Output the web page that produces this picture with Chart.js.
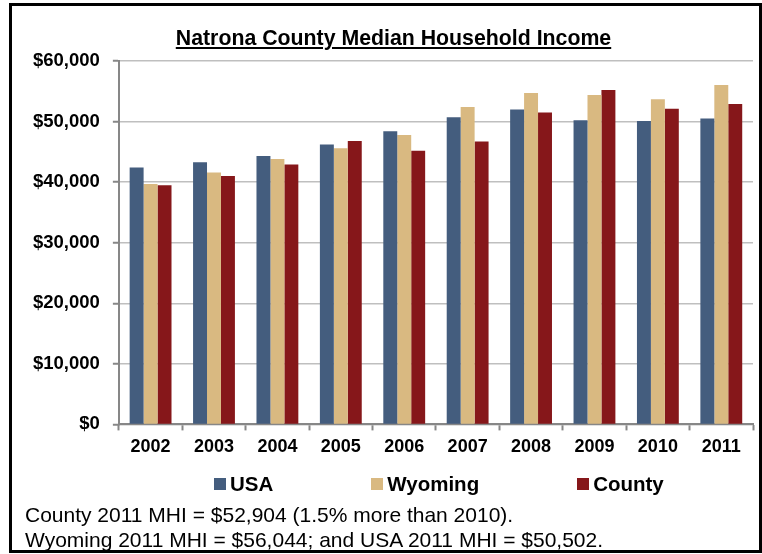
<!DOCTYPE html>
<html>
<head>
<meta charset="utf-8">
<script src="https://cdn.jsdelivr.net/npm/chart.js@4.4.1/dist/chart.umd.min.js"></script>
<style>
  body { margin: 0; background: #fff; font-family: "Liberation Sans", Arial, sans-serif; }
  #wrap { position: relative; width: 762px; height: 554px; overflow: hidden; }
  #frame { position: absolute; left: 9px; top: 3px; width: 747px; height: 544px; border: 3px solid #000; }
  #chart { position: absolute; left: 0; top: 0; }
  #title { position: absolute; left: 0; width: 787px; top: 26px; text-align: center;
    font-weight: bold; font-size: 21.3px; text-decoration: underline; color: #000; }
  #legend { position: absolute; left: 214px; top: 472px; display: flex; gap: 98px;
    font-weight: bold; font-size: 20.5px; color: #000; }
  #legend .item { display: flex; align-items: center; }
  #legend .box { width: 12px; height: 12px; margin-right: 4px; }
  #note { position: absolute; left: 25px; top: 502px; font-size: 21px; line-height: 25px; color: #000; }
</style>
</head>
<body>
<div id="wrap">
  <div id="frame"></div>
  <canvas id="chart" width="762" height="554"></canvas>
  <div id="title">Natrona County Median Household Income</div>
  <div id="legend"></div>
  <div id="note">County 2011 MHI = $52,904 (1.5% more than 2010).<br>Wyoming 2011 MHI = $56,044; and USA 2011 MHI = $50,502.</div>
</div>
<script>
// values (2011 ones are from the footnote)
const years = ["2002", "2003", "2004", "2005", "2006", "2007", "2008", "2009", "2010", "2011"];
const usa = [42400, 43300, 44300, 46200, 48400, 50700, 52000, 50200, 50100, 50502];
const wyoming = [39700, 41600, 43800, 45600, 47800, 52400, 54700, 54400, 53700, 56044];
const county = [39500, 41000, 42900, 46800, 45200, 46700, 51500, 55200, 52100, 52904];

const seriesNames = ["USA", "Wyoming", "County"];
const seriesColors = ["#445d7e", "#d9b981", "#86171a"];

const axisGray = "#878787";
const font = "'Liberation Sans', Arial, sans-serif";

const chartData = {
  labels: years,
  datasets: [usa, wyoming, county].map((vals, i) => ({
    label: seriesNames[i],
    data: vals,
    backgroundColor: seriesColors[i],
    borderWidth: 0,
    categoryPercentage: 0.66,
    barPercentage: 1.0,
  })),
};

new Chart(document.getElementById("chart"), {
  type: "bar",
  data: chartData,
  options: {
    responsive: false,
    animation: false,
    devicePixelRatio: 1,
    layout: { padding: { left: 20, top: 61, right: 9, bottom: 90 } },
    plugins: { legend: { display: false }, title: { display: false }, tooltip: { enabled: false } },
    scales: {
      x: {
        grid: { display: true, drawOnChartArea: false, drawTicks: true, tickLength: 6, tickColor: axisGray, tickWidth: 2 },
        border: { color: axisGray, width: 2 },
        ticks: { color: "#000", padding: 6, font: { family: font, size: 18, weight: "bold" } },
      },
      y: {
        min: 0,
        max: 60000,
        grid: { color: "#bfbfbf", lineWidth: 1.5, tickLength: 6, tickColor: axisGray, tickWidth: 2 },
        border: { color: axisGray, width: 2 },
        ticks: {
          stepSize: 10000,
          color: "#000",
          padding: 13,
          font: { family: font, size: 18.5, weight: "bold" },
          callback: (v) => "$" + v.toLocaleString("en-US"),
        },
      },
    },
  },
});

// legend built from the same series lists
const legend = document.getElementById("legend");
seriesNames.forEach((name, i) => {
  const item = document.createElement("div");
  item.className = "item";
  item.innerHTML = '<span class="box" style="background:' + seriesColors[i] + '"></span>' + name;
  legend.appendChild(item);
});
</script>
</body>
</html>
